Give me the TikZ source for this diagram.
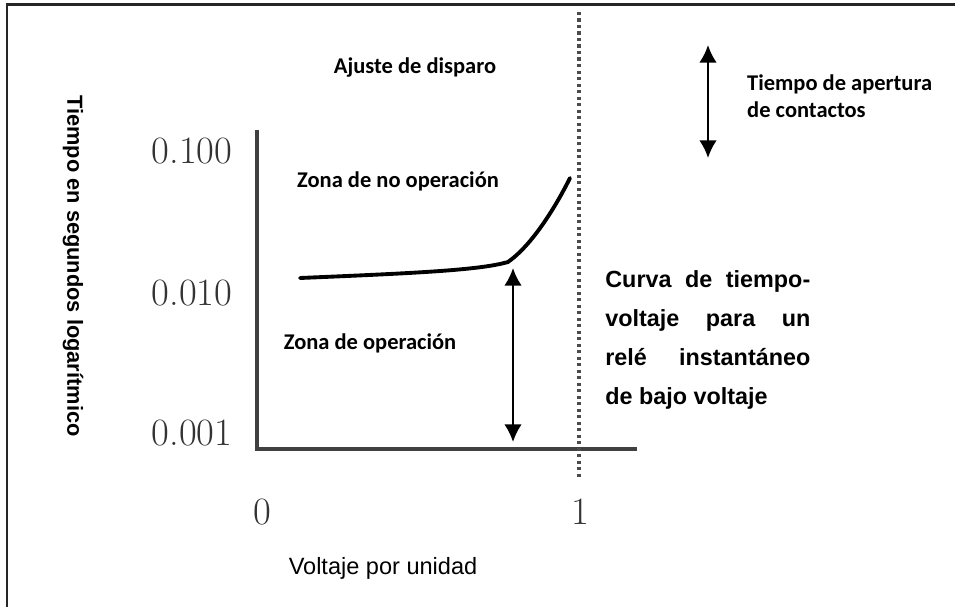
\documentclass[tikz,border=0pt]{standalone}
\usepackage{fontspec}
\newfontfamily\calibri{Carlito}
\newfontfamily\arial{Liberation Sans}
\usetikzlibrary{arrows.meta}

\tikzset{
  lbl/.style={font=\calibri\bfseries\fontsize{12.8}{15}\selectfont,text=black},
  tick/.style={font=\fontsize{22}{24}\selectfont,text=black!80},
  axis/.style={line width=2.3pt,draw=black!75},
  span/.style={line width=1.4pt,{Latex[length=10pt,width=10pt]}-{Latex[length=10pt,width=10pt]}}
}

\begin{document}
\begin{tikzpicture}[x=0.02cm,y=-0.02cm]
 \useasboundingbox (0,0) rectangle (955,607);
 % frame
 \draw[line width=1.7pt,black!85] (7,607) -- (7,5) -- (955,5);
 % axes
 \coordinate (origin) at (257,449);
 \coordinate (ytop) at (257,130);
 \coordinate (xend) at (637,449);
 \draw[axis] (ytop) -- (origin) -- (xend);
 \node[tick] (t100) at (192,151) {0.100};
 \node[tick] (t010) at (192,293) {0.010};
 \node[tick] (t001) at (192,433) {0.001};
 \node[tick] (x0) at (262,512) {0};
 \node[tick] (x1) at (580,512) {1};
 \node[font=\arial\fontsize{13.4}{16}\selectfont] (xlabel) at (383,568) {Voltaje por unidad};
 \node[rotate=-90,font=\arial\bfseries\fontsize{12.4}{15}\selectfont] (ylabel) at (73,266)
   {Tiempo en segundos logarítmico};
 % trip setting
 \coordinate (trip) at (579,12);
 \coordinate (tripend) at (579,480);
 \draw[line width=1.8pt,black!70,dash pattern=on 1.8pt off 1.9pt] (trip) -- (tripend);
 \node[lbl] (ajuste) at (415,68) {Ajuste de disparo};
 % curve
 \coordinate (c0) at (300,278);
 \coordinate (c1) at (508,262);
 \coordinate (c2) at (570,178);
 \draw[line width=2.2pt,line cap=round] (c0) .. controls (420,273) and (480,270) .. (c1)
   .. controls (532,245) and (555,208) .. (c2);
 \node[lbl] (noop) at (398,181) {Zona de no operación};
 \node[lbl] (op) at (370,343) {Zona de operación};
 % arrows
 \coordinate (optop) at (513,268);
 \coordinate (opbot) at (513,442);
 \draw[span] (optop) -- (opbot);
 \coordinate (aptop) at (708,45);
 \coordinate (apbot) at (708,158);
 \draw[span] (aptop) -- (apbot);
 \node[lbl,anchor=west,align=left,font=\calibri\bfseries\fontsize{12.8}{15.5}\selectfont] (apertura) at (741,96)
   {Tiempo de apertura\\de contactos};
 \node[anchor=north west,inner sep=0pt,text width=4.1cm,align=justify,
   font=\arial\bfseries\fontsize{13.3}{22.3}\selectfont] (curva) at (605,270)
   {Curva de tiempo-\linebreak voltaje para un\linebreak relé instantáneo\linebreak de bajo voltaje};
\end{tikzpicture}
\end{document}
